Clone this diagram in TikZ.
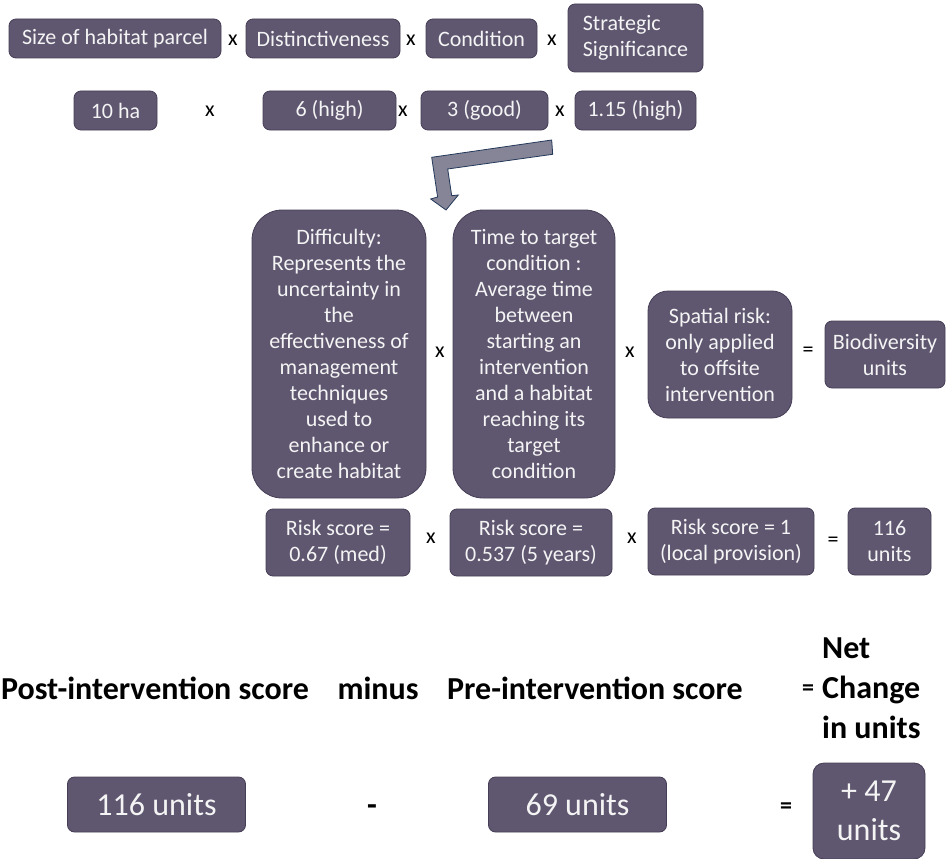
\documentclass[tikz,border=0pt]{standalone}
\usepackage{fontspec}
\setmainfont{Carlito}
\begin{document}
\begin{tikzpicture}[x=1pt, y=-1pt, font=\fontsize{22}{26}\selectfont,
    box/.style={draw=boxline, fill=boxfill, text=boxtext, line width=0.8pt,
        rounded corners=7pt, inner sep=0pt, align=center},
    bigbox/.style={box, rounded corners=30pt},
    midbox/.style={box, rounded corners=20pt},
    op/.style={inner sep=0pt, text=black},
    boldop/.style={op, font=\fontsize{24}{28}\selectfont\bfseries},
    bigtxt/.style={font=\fontsize{32}{39}\selectfont},
    headtxt/.style={font=\fontsize{32}{40}\selectfont\bfseries, inner sep=0pt},
    bentarrow/.style={fill=arrowfill, draw=arrowline, line width=0.8pt, line join=miter}]
    % --- Colores ---
    \definecolor{boxfill}{HTML}{5F5670} \definecolor{boxline}{HTML}{463E56}
    \definecolor{boxtext}{HTML}{F4F4F4}
    \definecolor{arrowfill}{HTML}{858597} \definecolor{arrowline}{HTML}{24395A}

    \useasboundingbox (0,0) rectangle (946,859);

    % --- Fila 1: factores ---
    \node[box, minimum width=212pt, minimum height=39pt] (size) at (115,38.5) {Size of habitat parcel};
    \node[op] (x1) at (233,40) {x};
    \node[box, minimum width=154pt, minimum height=39pt] (dist) at (323,38.5) {Distinctiveness};
    \node[op] (x2) at (411,40) {x};
    \node[box, minimum width=111pt, minimum height=39pt] (cond) at (481.5,38.5) {Condition};
    \node[op] (x3) at (552,40) {x};
    \node[box, align=left, minimum width=135pt, minimum height=68pt] (strat) at (635.5,38) {Strategic\\Significance};

    % --- Fila 2: valores ---
    \node[box, minimum width=83pt, minimum height=39pt] (ha) at (115.5,110.5) {10 ha};
    \node[op] (x4) at (210,111) {x};
    \node[box, minimum width=133pt, minimum height=39pt] (disthigh) at (329.5,110.5) {6 (high)};
    \node[op] (x5) at (403,111) {x};
    \node[box, minimum width=127pt, minimum height=39pt] (condgood) at (484.5,110.5) {3 (good)};
    \node[op] (x6) at (560,111) {x};
    \node[box, minimum width=121pt, minimum height=39pt] (strathigh) at (635.5,110.5) {1.15 (high)};

    % --- Flecha doblada hacia los riesgos ---
    \draw[bentarrow] (551.7,140) -- (552.7,154.3) -- (447.7,169) -- (451.7,195.7)
        -- (458.3,195) -- (446,210) -- (430.7,199) -- (437.6,197) -- (431.7,157.3) -- cycle;

    % --- Fila 3: multiplicadores de riesgo ---
    \node[bigbox, minimum width=174pt, minimum height=288pt] (diff) at (339,354)
        {Difficulty:\\Represents the\\uncertainty in\\the\\effectiveness of\\management\\techniques\\used to\\enhance or\\create habitat};
    \node[op] (x7) at (440,352) {x};
    \node[bigbox, minimum width=162pt, minimum height=288pt] (time) at (534,354)
        {Time to target\\condition :\\Average time\\between\\starting an\\intervention\\and a habitat\\reaching its\\target\\condition};
    \node[op] (x8) at (630,352) {x};
    \node[midbox, minimum width=144pt, minimum height=127pt] (spat) at (720,354.5)
        {Spatial risk:\\only applied\\to offsite\\intervention};
    \node[op] (eq1) at (808,352) {=};
    \node[box, minimum width=120pt, minimum height=67pt] (bio) at (885,354.5) {Biodiversity\\units};

    % --- Fila 4: puntuaciones de riesgo ---
    \node[box, minimum width=144pt, minimum height=67pt] (riskdiff) at (338,542.5) {Risk score =\\0.67 (med)};
    \node[op] (x9) at (431,538) {x};
    \node[box, minimum width=162pt, minimum height=67pt] (risktime) at (531,542.5) {Risk score =\\0.537 (5 years)};
    \node[op] (x10) at (632,538) {x};
    \node[box, minimum width=166pt, minimum height=67pt] (riskspat) at (731,541.5) {Risk score = 1\\(local provision)};
    \node[op] (eq2) at (833,542) {=};
    \node[box, minimum width=83pt, minimum height=67pt] (units) at (889.5,541.5) {116\\units};

    % --- Cambio neto ---
    \node[headtxt] (post) at (155,688) {Post-intervention score};
    \node[headtxt] (minus) at (378,688) {minus};
    \node[headtxt] (pre) at (595,688) {Pre-intervention score};
    \node[boldop] (eq3) at (808,690) {=};
    \node[headtxt, anchor=west, align=left] (net) at (822,688) {Net\\Change\\in units};

    \node[box, bigtxt, minimum width=178pt, minimum height=55pt] (postval) at (156.5,804.5) {116 units};
    \node[headtxt] (dash) at (372,810) {-};
    \node[box, bigtxt, minimum width=178pt, minimum height=55pt] (preval) at (577.5,804.5) {69 units};
    \node[boldop] (eq4) at (786,808) {=};
    \node[box, bigtxt, rounded corners=11pt, minimum width=112pt, minimum height=96pt] (netval) at (869,811) {+ 47\\units};
\end{tikzpicture}
\end{document}
